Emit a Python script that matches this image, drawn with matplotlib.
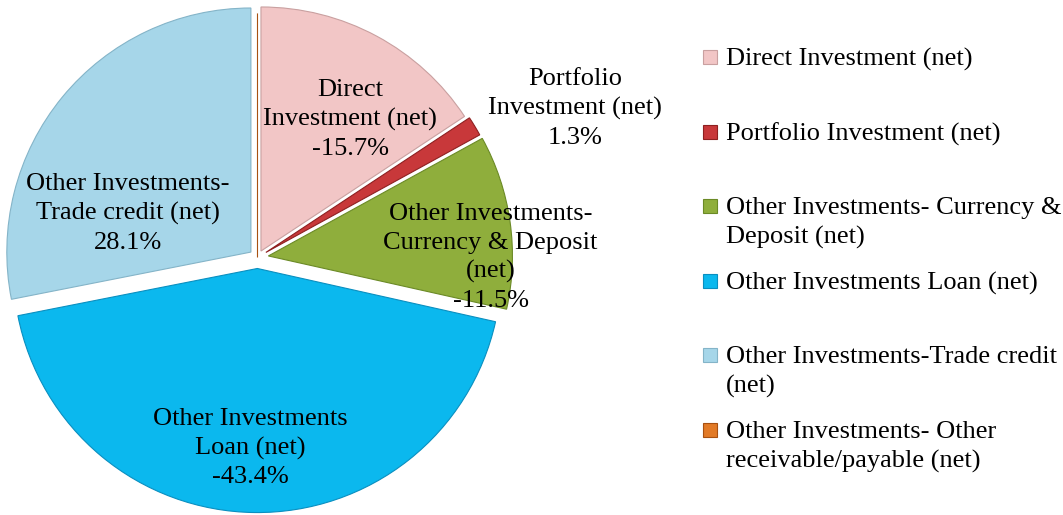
import numpy as np
import matplotlib.pyplot as plt
from matplotlib.patches import Rectangle

# data
labels = ['Direct Investment (net)',
          'Portfolio Investment (net)',
          'Other Investments- Currency & Deposit (net)',
          'Other Investments Loan (net)',
          'Other Investments-Trade credit (net)',
          'Other Investments- Other receivable/payable (net)']
slice_labels = ['Direct\nInvestment (net)',
                'Portfolio\nInvestment (net)',
                'Other Investments-\nCurrency & Deposit\n(net)',
                'Other Investments\nLoan (net)',
                'Other Investments-\nTrade credit (net)',
                '']
legend_labels = ['Direct Investment (net)',
                 'Portfolio Investment (net)',
                 'Other Investments- Currency &\nDeposit (net)',
                 'Other Investments Loan (net)',
                 'Other Investments-Trade credit\n(net)',
                 'Other Investments- Other\nreceivable/payable (net)']
values = [-15.7, 1.3, -11.5, -43.4, 28.1, 0.0]

colors = ['#f2c6c6', '#c8383a', '#8fae3c', '#0bb8ee', '#a6d6e9', '#e27a26']
edges = ['#c9a0a0', '#8e2020', '#6b8a26', '#0a8fc0', '#84b4c8', '#a85010']
explode = [0.03, 0.04, 0.045, 0.045, 0.035, 0.0]
# label anchor points (data units, pie radius = 1)
label_pos = [(0.38, 0.565), (1.30, 0.61), (0.955, 0.0), (-0.03, -0.78),
             (-0.53, 0.18), (0, 0)]

plt.rcParams['font.family'] = ['Liberation Serif', 'DejaVu Serif']
fs = 19
ls = 1.38

fig = plt.figure(figsize=(10.63, 5.15), dpi=100)
ax = fig.add_axes([0, 0, 515/1063, 1])
sizes = np.abs(values)
wedges, _ = ax.pie(sizes, colors=colors, explode=explode, startangle=90,
                   counterclock=False,
                   wedgeprops=dict(linewidth=0.8))
for w, ec in zip(wedges, edges):
    w.set_edgecolor(ec)
ax.set_xlim(-1.055, 1.055)
ax.set_ylim(-1.055, 1.055)
ax.set_aspect('equal')
ax.axis('off')

for i in range(len(values)):
    if sizes[i] == 0:
        continue
    txt = slice_labels[i] + '\n' + '%.1f%%' % values[i]
    ax.text(label_pos[i][0], label_pos[i][1], txt, ha='center', va='center',
            fontsize=fs, linespacing=ls, clip_on=False, zorder=5)

# legend drawn by hand (uneven spacing like the original)
H = 515.
W = 1063.
for i, lab in enumerate(legend_labels):
    ytop = 57 + 74.6*i
    fig.patches.append(Rectangle((703/W, 1 - (ytop + 7)/H), 14/W, 14/H,
                                 transform=fig.transFigure,
                                 facecolor=colors[i], edgecolor=edges[i],
                                 linewidth=0.8))
    fig.text(726/W, 1 - (ytop - 9)/H, lab, ha='left', va='top',
             fontsize=fs, linespacing=ls)

fig.savefig('out.png', dpi=100)
